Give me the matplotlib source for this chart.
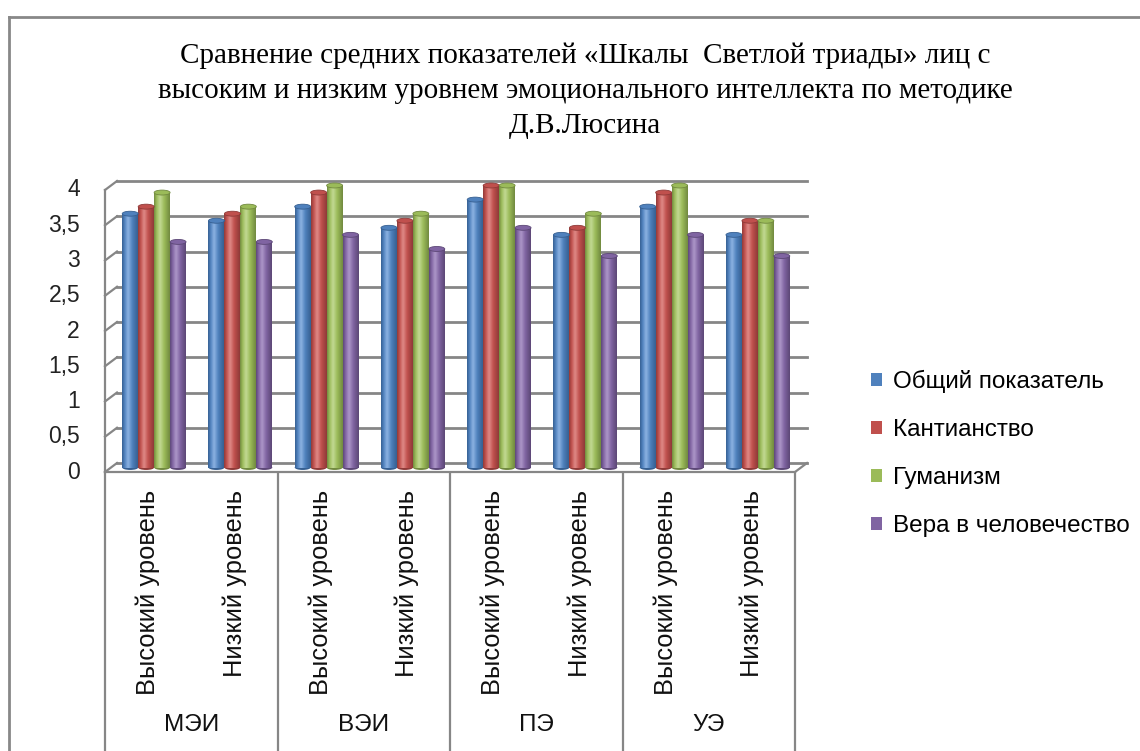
import matplotlib
matplotlib.use('Agg')
import matplotlib.pyplot as plt
import numpy as np
from matplotlib.colors import LinearSegmentedColormap
from matplotlib.patches import Ellipse, Patch
from matplotlib.lines import Line2D
from matplotlib.transforms import ScaledTranslation

# --- data ---
groups = ['МЭИ', 'ВЭИ', 'ПЭ', 'УЭ']
levels = ['Высокий уровень', 'Низкий уровень']
series_names = ['Общий показатель', 'Кантианство', 'Гуманизм', 'Вера в человечество']
general = [3.6, 3.5, 3.7, 3.4, 3.8, 3.3, 3.7, 3.3]
kantianism = [3.7, 3.6, 3.9, 3.5, 4.0, 3.4, 3.9, 3.5]
humanism = [3.9, 3.7, 4.0, 3.6, 4.0, 3.6, 4.0, 3.5]
faith = [3.2, 3.2, 3.3, 3.1, 3.4, 3.0, 3.3, 3.0]
yticks = [0, 0.5, 1, 1.5, 2, 2.5, 3, 3.5, 4]
ytick_labels = ['0', '0,5', '1', '1,5', '2', '2,5', '3', '3,5', '4']
title = ('Сравнение средних показателей «Шкалы  Светлой триады» лиц с\n'
         'высоким и низким уровнем эмоционального интеллекта по методике\n'
         'Д.В.Люсина')

# base / dark / light shades (Office palette)
palette = [('#4F81BD', '#365F91', '#8DB3E2'),
           ('#C0504D', '#8E3A38', '#E08A87'),
           ('#9BBB59', '#71893F', '#C3D994'),
           ('#8064A2', '#5C4776', '#AD97C9')]

W, H = 1140, 751
fig = plt.figure(figsize=(W / 100, H / 100), dpi=100)
SANS = ['Liberation Sans', 'DejaVu Sans']
GRID = '#868686'


def px_axes(l, t, r, b):
    return [l / W, 1 - b / H, (r - l) / W, (b - t) / H]


# axes in the middle depth plane of the 3D box (where the bars stand)
ax = fig.add_axes(px_axes(111, 185.5, 801, 467.5))
ax.axis('off')

n = len(general)
w = 0.185
grad = np.linspace(0, 1, 64)[None, :]
all_series = [general, kantianism, humanism, faith]
for k, (vals, (base, dark, light)) in enumerate(zip(all_series, palette)):
    cmap = LinearSegmentedColormap.from_list(
        f's{k}', [(0, dark), (0.15, base), (0.38, light), (0.65, base), (1, dark)])
    for i, v in enumerate(vals):
        x0 = i + 0.5 - 2 * w + k * w
        ax.add_patch(Ellipse((x0 + w / 2, 0), w, 0.07, facecolor=dark,
                             edgecolor='none', zorder=2.9, clip_on=False))
        ax.imshow(grad, extent=(x0, x0 + w, 0, v), aspect='auto', cmap=cmap,
                  interpolation='bicubic', zorder=3, clip_on=False)
        ax.add_patch(Ellipse((x0 + w / 2, v), w, 0.07, facecolor=base,
                             edgecolor=dark, lw=0.6, zorder=4, clip_on=False))

ax.set_xlim(0, n)
ax.set_ylim(0, 4)

# back wall and front plane of the 3D box
back = ax.transData + ScaledTranslation(6 / 100, 4.5 / 100, fig.dpi_scale_trans)
front = ax.transData + ScaledTranslation(-6 / 100, -4.5 / 100, fig.dpi_scale_trans)
inv = fig.transFigure.inverted()


def link(p, q, tp, tq):
    a, b = inv.transform([tp.transform(p), tq.transform(q)])
    fig.add_artist(Line2D([a[0], b[0]], [a[1], b[1]], color=GRID, lw=1.6))


for v in yticks:
    ax.plot([0, n], [v, v], transform=back, color=GRID, lw=2, zorder=1,
            clip_on=False)
    link((0, v), (0, v), front, back)
link((n, 0), (n, 0), front, back)
ax.plot([0, n], [0, 0], transform=front, color=GRID, lw=1.6, clip_on=False, zorder=5)
ax.plot([0, 0], [0, 4], transform=front, color=GRID, lw=1.6, clip_on=False, zorder=5)

# y labels
ylab = front + ScaledTranslation(-25 / 100, 0, fig.dpi_scale_trans)
for v, lab in zip(yticks, ytick_labels):
    ax.text(0, v, lab, transform=ylab, ha='right', va='center', fontsize=16.5,
            family=SANS, color='#222222')

# category axis below the floor
y_bottom = front.inverted().transform((0, 0))[1]
ax.vlines(np.arange(0, n + 1, 2), y_bottom, 0, transform=front, color=GRID,
          lw=1.6, clip_on=False)
lvl_t = front + ScaledTranslation(0, -18 / 100, fig.dpi_scale_trans)
grp_t = front + ScaledTranslation(0, -253 / 100, fig.dpi_scale_trans)
for i in range(n):
    ax.text(i + 0.5, 0, levels[i % 2], transform=lvl_t, rotation=90,
            ha='center', va='top', fontsize=18.4, family=SANS, color='#111111')
for g, name in enumerate(groups):
    ax.text(2 * g + 1, 0, name, transform=grp_t, ha='center', va='center',
            fontsize=17.5, family=SANS, color='#111111')

# title
fig.text(585 / W, 1 - 91 / H, title, ha='center', va='center',
         family=['Liberation Serif', 'DejaVu Serif'], fontsize=21, linespacing=1.45)

# legend
handles = [Patch(facecolor=c[0], edgecolor='none') for c in palette]
fig.legend(handles, series_names, loc='upper left',
           bbox_to_anchor=(871 / W, 1 - 370 / H), frameon=False,
           prop={'family': SANS, 'size': 17.5}, handlelength=0.45,
           handleheight=0.45, handletextpad=0.45, labelspacing=1.07,
           borderpad=0, borderaxespad=0)

# chart area border
fig.add_artist(Line2D([9 / W, 9 / W], [0, 1 - 17 / H], color='#888888', lw=2))
fig.add_artist(Line2D([9 / W, 1], [1 - 17 / H, 1 - 17 / H], color='#888888', lw=2))

fig.savefig('out.png', dpi=100)
